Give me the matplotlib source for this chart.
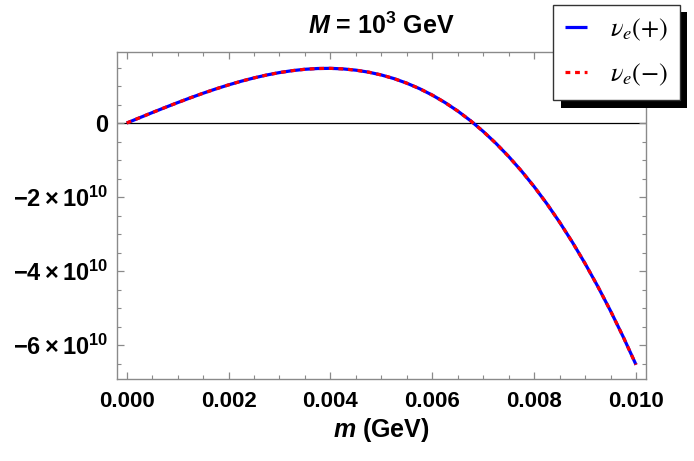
import matplotlib
matplotlib.use("Agg")
import matplotlib.pyplot as plt
from matplotlib.font_manager import FontProperties
from matplotlib.patches import Rectangle
from matplotlib.ticker import MultipleLocator, FixedLocator, FixedFormatter

plt.rcParams['font.family'] = ['Liberation Sans', 'DejaVu Sans']
plt.rcParams['mathtext.fontset'] = 'custom'
plt.rcParams['mathtext.rm'] = 'Liberation Sans:bold'
plt.rcParams['mathtext.bf'] = 'Liberation Sans:bold'
plt.rcParams['mathtext.it'] = 'Liberation Sans:bold:italic'
plt.rcParams['mathtext.bfit'] = 'Liberation Sans:bold:italic'

# data
m_vals = [0.0, 0.00025, 0.0005, 0.00075, 0.001, 0.00125, 0.0015, 0.00175,
          0.002, 0.00225, 0.0025, 0.00275, 0.003, 0.00325, 0.0035, 0.00375,
          0.004, 0.00425, 0.0045, 0.00475, 0.005, 0.00525, 0.0055, 0.00575,
          0.006, 0.00625, 0.0065, 0.00675, 0.007, 0.00725, 0.0075, 0.00775,
          0.008, 0.00825, 0.0085, 0.00875, 0.009, 0.00925, 0.0095, 0.00975,
          0.010]
nu_plus = [0.0, 1.409e9, 2.81e9, 4.18e9, 5.52e9, 6.815e9, 8.05e9, 9.221e9,
           1.031e10, 1.1307e10, 1.220e10, 1.2983e10, 1.364e10, 1.4157e10,
           1.453e10, 1.4737e10, 1.478e10, 1.4632e10, 1.429e10, 1.3751e10,
           1.299e10, 1.2002e10, 1.077e10, 9.295e9, 7.55e9, 5.538e9, 3.24e9,
           6.39e8, -2.27e9, -5.492e9, -9.05e9, -1.2948e10, -1.720e10,
           -2.1819e10, -2.681e10, -3.2196e10, -3.798e10, -4.4172e10,
           -5.079e10, -5.7836e10, -6.533e10]
nu_minus = list(nu_plus)

x_ticks = [0.000, 0.002, 0.004, 0.006, 0.008, 0.010]
x_tick_labels = ["0.000", "0.002", "0.004", "0.006", "0.008", "0.010"]
y_ticks = [0.0, -2e10, -4e10, -6e10]
y_tick_labels = ["0", r"$\mathbf{-2\times10^{10}}$", r"$\mathbf{-4\times10^{10}}$",
                 r"$\mathbf{-6\times10^{10}}$"]

W, H = 694, 461
fig = plt.figure(figsize=(W / 100, H / 100), dpi=100)
L, R, B, T = 116.7, 646, 378.5, 52
ax = fig.add_axes([L / W, 1 - B / H, (R - L) / W, (B - T) / H])

ax.axhline(0, color='black', lw=0.9, zorder=1)
lp, = ax.plot(m_vals, nu_plus, color='#0000ff', lw=2.3, solid_capstyle='butt',
              label=r'$\nu_e(+)$', zorder=3)
lm, = ax.plot(m_vals, nu_minus, color='#ff0000', lw=2.3, linestyle=(0, (1.5, 1.5)),
              label=r'$\nu_e(-)$', zorder=4)

ax.set_xlim(-0.000196, 0.010196)
ax.set_ylim(-6.905e10, 1.92e10)

ax.xaxis.set_major_locator(FixedLocator(x_ticks))
ax.xaxis.set_major_formatter(FixedFormatter(x_tick_labels))
ax.xaxis.set_minor_locator(MultipleLocator(0.0005))
ax.yaxis.set_major_locator(FixedLocator(y_ticks))
ax.yaxis.set_major_formatter(FixedFormatter(y_tick_labels))
ax.yaxis.set_minor_locator(MultipleLocator(5e9))

frame_col = '#8a8a8a'
for s in ax.spines.values():
    s.set_color(frame_col)
    s.set_linewidth(1.0)
ax.tick_params(which='both', direction='in', top=True, right=True, color=frame_col)
ax.tick_params(which='major', length=5, width=0.9)
ax.tick_params(which='minor', length=3, width=0.8)
ax.tick_params(axis='x', which='major', pad=9, labelsize=16)
ax.tick_params(axis='y', which='major', pad=6, labelsize=17)
for lab in ax.get_xticklabels() + ax.get_yticklabels():
    lab.set_fontweight('bold')

ax.set_title(r"$\mathbfit{M}$ = 10$^{\mathbf{3}}$ GeV", fontsize=18,
             fontweight='bold', pad=13)
ax.set_xlabel(r"$\mathbfit{m}$ (GeV)", fontsize=18, fontweight='bold', labelpad=3)

# legend with black drop shadow
lx0, ly0 = 553, 4.7
leg = fig.legend(handles=[lp, lm], loc='upper left',
                 bbox_to_anchor=(lx0 / W, 1 - ly0 / H), borderaxespad=0,
                 prop=FontProperties(family='DejaVu Serif', size=19,
                                     math_fontfamily='stix'),
                 handlelength=0.85, handletextpad=0.85, borderpad=0.45,
                 labelspacing=0.7, fancybox=False, framealpha=1,
                 edgecolor='#333333')
leg.get_frame().set_linewidth(1.0)
leg.set_zorder(5)

fig.canvas.draw()
bb = leg.get_window_extent()
off = 7.5
shadow = Rectangle(((bb.x0 + off) / W, (bb.y0 - off) / H), bb.width / W,
                   bb.height / H, transform=fig.transFigure,
                   facecolor='black', edgecolor='none', zorder=4)
fig.add_artist(shadow)

fig.savefig("out.png", dpi=100)
